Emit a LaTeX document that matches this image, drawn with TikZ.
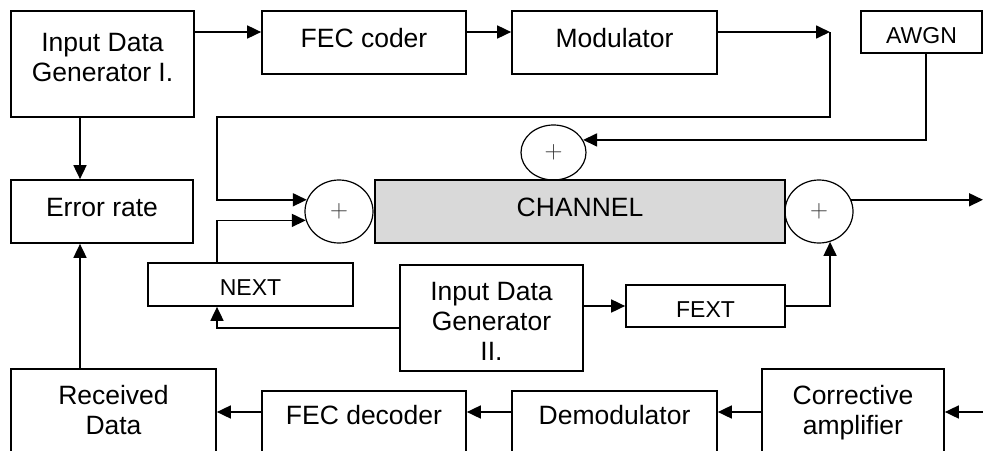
\documentclass[tikz,border=0pt]{standalone}
\usepackage{fontspec}
\setmainfont{Liberation Sans}
\usetikzlibrary{arrows.meta, shapes.geometric}
\definecolor{changray}{RGB}{217,217,217}

\begin{document}
\begin{tikzpicture}[
  x=1pt, y=-1pt,
  font=\fontsize{26.5}{30}\selectfont,
  >={Triangle[length=14pt, width=13pt]},
  blk/.style={rectangle, draw, line width=1.7pt, inner sep=0pt,
              align=center, text height=19.5pt, text depth=10pt},
  blk-lbl/.style={blk, font=\fontsize{23}{30}\selectfont,
                  text height=22pt, text depth=0pt},
  blk-chan/.style={blk, fill=changray},
  sum/.style={ellipse, draw, line width=1.2pt, inner sep=0pt,
              font=\fontsize{25}{25}\selectfont, text=black!80},
  wire/.style={line width=1.7pt, ->}
]
  \useasboundingbox (0,0) rectangle (983,450);
  \clip (0,0) rectangle (983,450);

  % ===========================================================
  % TRANSMITTER (top row)
  % ===========================================================
  \node[blk, minimum width=183, minimum height=106, text height=49.5pt, text depth=14pt]
    (gen1) at (102.5,64) {Input Data\\Generator I.};
  \node[blk, minimum width=204, minimum height=63] (fec) at (364,42.5) {FEC coder};
  \node[blk, minimum width=205, minimum height=63] (mod) at (614.5,42.5) {Modulator};
  \node[blk-lbl, minimum width=121, minimum height=42] (awgn) at (921.5,32) {AWGN};

  \node[blk, minimum width=182, minimum height=63] (err) at (102,211.5) {Error rate};

  % ===========================================================
  % CHANNEL with the three summing points
  % ===========================================================
  \node[blk-chan, minimum width=410, minimum height=63] (chan) at (580,211.5) {CHANNEL};
  \node[sum, minimum width=65, minimum height=55] (tsum) at (553.5,152.5) {$+$};
  \node[sum, minimum width=68, minimum height=63] (lsum) at (339,211.5) {$+$};
  \node[sum, minimum width=68, minimum height=63] (rsum) at (819,211.5) {$+$};

  % crosstalk sources
  \node[blk-lbl, minimum width=205, minimum height=43] (next) at (250.5,284.5) {NEXT};
  \node[blk, minimum width=183, minimum height=106, text height=84pt, text depth=0pt]
    (gen2) at (491.5,318) {Input Data\\Generator\\II.};
  \node[blk-lbl, minimum width=159, minimum height=42] (fext) at (705.5,306) {FEXT};

  % ===========================================================
  % RECEIVER (bottom row, cut by the lower edge)
  % ===========================================================
  \node[blk, minimum width=205, minimum height=101, text height=49.5pt, text depth=20.5pt]
    (recv) at (113.5,419.5) {Received\\Data};
  \node[blk, minimum width=204, minimum height=79, text depth=32.5pt]
    (fecd) at (364,430.5) {FEC decoder};
  \node[blk, minimum width=205, minimum height=79, text depth=32.5pt]
    (demod) at (614.5,430.5) {Demodulator};
  \node[blk, minimum width=182, minimum height=101, text height=49.5pt, text depth=20.5pt]
    (corr) at (853,419.5) {Corrective\\amplifier};

  % bend points and free ends
  \coordinate (mc)  at (830,32);
  \coordinate (lx)  at (217,117);
  \coordinate (ex)  at (80,0);
  \coordinate (out) at (983,200);
  \coordinate (in)  at (983,412);

  % ===========================================================
  % CONNECTORS
  % ===========================================================
  \draw[wire] ([yshift=10.5pt]fec.west -| gen1.east) -- ([yshift=10.5pt]fec.west);
  \draw[wire] ([yshift=10.5pt]fec.east) -- ([yshift=10.5pt]mod.west);
  \draw[wire] ([yshift=10.5pt]mod.east) -- (mc);
  \draw[wire] (mc) |- (lx) |- (lsum.160);

  \draw[wire] ([xshift=4.5pt]awgn.south) |- (tsum.23);

  \draw[wire] (lx |- next.north) |- (lsum.195);
  \draw[wire] ([yshift=-10pt]gen2.west) -| (lx |- next.south);
  \draw[wire] (gen2.east |- fext.west) -- (fext.west);
  \draw[wire] (fext.east) -| (rsum.290);
  \draw[wire] (rsum.20) -- (rsum.20 -| out);

  \draw[wire] (ex |- gen1.south) -- (ex |- err.north);
  \draw[wire] (ex |- recv.north) -- (ex |- err.south);

  \draw[wire] (in) -- (in -| corr.east);
  \draw[wire] (corr.west |- in) -- (demod.east |- in);
  \draw[wire] (demod.west |- in) -- (fecd.east |- in);
  \draw[wire] (fecd.west |- in) -- (recv.east |- in);

\end{tikzpicture}
\end{document}
